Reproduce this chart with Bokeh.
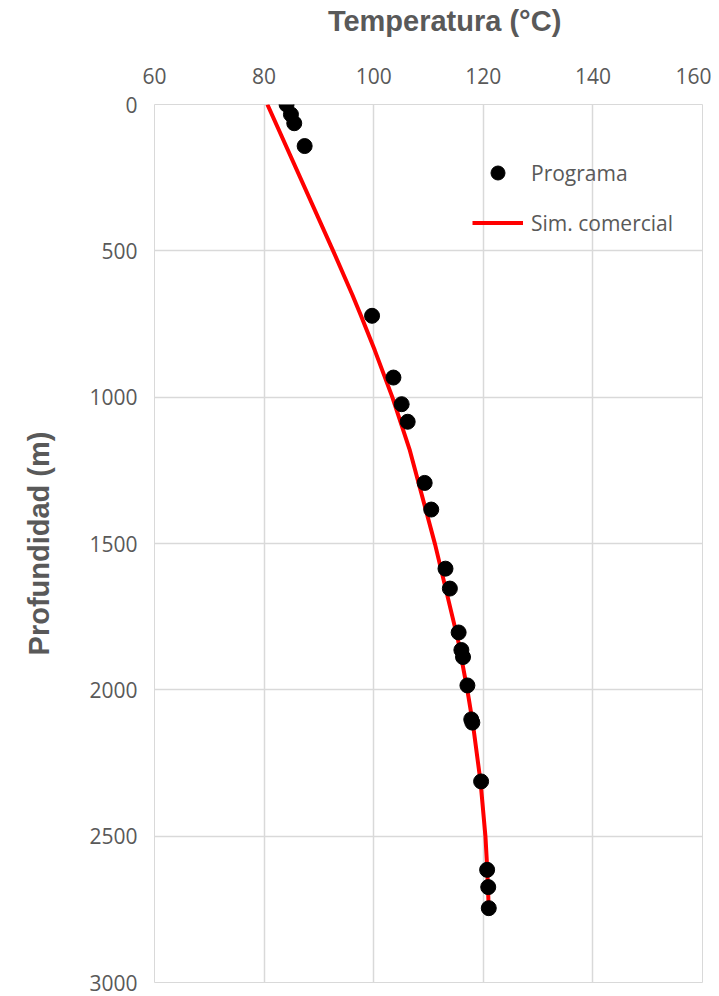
from bokeh.plotting import figure
from bokeh.models import Range1d, Legend, LegendItem, FixedTicker, LinearAxis
from bokeh.embed import file_html
from bokeh.resources import INLINE

# Data
prog_temp = [84.1, 84.9, 85.5, 87.4, 99.7, 103.6, 105.1, 106.2, 109.3, 110.5,
             113.1, 113.9, 115.5, 116.0, 116.3, 117.1, 117.8, 118.0, 119.6,
             120.7, 120.9, 121.0]
prog_depth = [0, 34, 64, 142, 722, 933, 1024, 1084, 1293, 1384,
              1586, 1654, 1804, 1864, 1888, 1985, 2101, 2112, 2313,
              2615, 2674, 2746]
sim_depth = [0, 500, 650, 723, 840, 1000, 1182, 1503, 1831, 2002, 2116,
             2315, 2503, 2606, 2750]
sim_temp = [80.6, 92.6, 96.1, 97.7, 100.2, 103.4, 106.6, 111.2, 115.4, 117.1,
            118.1, 119.5, 120.4, 120.7, 121.0]
x_ticks = [60, 80, 100, 120, 140, 160]
y_ticks = [0, 500, 1000, 1500, 2000, 2500, 3000]

GRAY = "#595959"
GRID = "#d9d9d9"

p = figure(width=711, height=996, output_backend="svg", toolbar_location=None,
           x_range=Range1d(60, 160), y_range=Range1d(3000, 0), title=None,
           x_axis_location="above", min_border_left=154, min_border_top=104,
           min_border_right=9, min_border_bottom=14)
p.outline_line_color = GRID
p.background_fill_color = "white"
p.border_fill_color = "white"

for ax in (p.xaxis[0], p.yaxis[0]):
    ax.axis_line_color = None
    ax.major_tick_line_color = None
    ax.minor_tick_line_color = None
    ax.major_tick_out = 0
    ax.major_tick_in = 0
    ax.major_label_text_font = "Open Sans"
    ax.major_label_text_font_size = "21px"
    ax.major_label_text_color = GRAY

p.xaxis.ticker = FixedTicker(ticks=x_ticks)
p.yaxis.ticker = FixedTicker(ticks=y_ticks)
p.xaxis.major_label_standoff = 21
p.yaxis.major_label_standoff = 17
p.yaxis.axis_label = "Profundidad (m)"
p.yaxis.axis_label_text_font = "Liberation Sans"
p.yaxis.axis_label_text_font_style = "bold"
p.yaxis.axis_label_text_font_size = "29px"
p.yaxis.axis_label_text_color = GRAY
p.yaxis.axis_label_standoff = 31

# Heading axis: carries only the "Temperatura" label (nudged right as in Excel)
head = LinearAxis(ticker=FixedTicker(ticks=[]),
                  axis_label="\u00a0\u00a0\u00a0\u00a0Temperatura (°C)")
head.axis_line_color = None
head.major_tick_line_color = None
head.minor_tick_line_color = None
head.major_tick_out = 0
head.major_tick_in = 0
head.minor_tick_out = 0
head.major_label_standoff = 0
head.axis_label_standoff = 28
head.axis_label_text_font = "Liberation Sans"
head.axis_label_text_font_style = "bold"
head.axis_label_text_font_size = "29px"
head.axis_label_text_color = GRAY
p.add_layout(head, "above")

p.xgrid.grid_line_color = GRID
p.ygrid.grid_line_color = GRID
p.xgrid.grid_line_width = 1.5
p.ygrid.grid_line_width = 1.5

r_line = p.line(sim_temp, sim_depth, line_color="#ff0000", line_width=4)
r_pts = p.scatter(prog_temp, prog_depth, size=15, fill_color="black",
                  line_color="black")

legend = Legend(items=[LegendItem(label="Programa", renderers=[r_pts]),
                       LegendItem(label="Sim. comercial", renderers=[r_line])],
                location=(318, 742), orientation="vertical")
legend.background_fill_alpha = 0
legend.border_line_color = None
legend.padding = 0
legend.margin = 0
legend.glyph_width = 51
legend.glyph_height = 35
legend.label_height = 20
legend.spacing = 15
legend.label_standoff = 8
legend.label_text_font = "Open Sans"
legend.label_text_font_size = "21px"
legend.label_text_color = GRAY
p.add_layout(legend, "center")

open("out.html", "w").write(file_html(p, INLINE))
